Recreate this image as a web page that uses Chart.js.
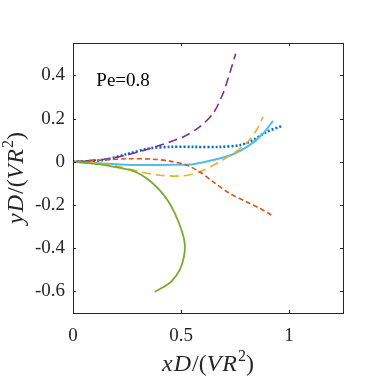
<!DOCTYPE html>
<html><head><meta charset="utf-8">
<script src="https://cdn.jsdelivr.net/npm/chart.js@4/dist/chart.umd.min.js"></script>
<style>html,body{margin:0;padding:0;background:#fff}#w{width:379px;height:379px}</style>
</head><body><div id="w"><canvas id="c"></canvas></div>
<script>
const xTicks = [0, 0.5, 1];
const yTicks = [-0.6, -0.4, -0.2, 0, 0.2, 0.4];
const annotationText = 'Pe=0.8';
const xTitleParts = [['x', 'i'], ['D', 'i'], ['/', 'n'], ['(', 'n'], ['V', 'i'], ['R', 'i'], ['2', 's'], [')', 'n']];
const yTitleParts = [['y', 'i'], ['D', 'i'], ['/', 'n'], ['(', 'n'], ['V', 'i'], ['R', 'i'], ['2', 's'], [')', 'n']];

const purpleX = [0, 0.139, 0.247, 0.37, 0.509, 0.586, 0.648, 0.694, 0.725, 0.753];
const purpleY = [0, 0.011, 0.031, 0.066, 0.115, 0.162, 0.223, 0.315, 0.408, 0.5];
const blueX = [0, 0.139, 0.247, 0.355, 0.448, 0.556, 0.679, 0.772, 0.833, 0.895, 0.965];
const blueY = [0, 0.008, 0.035, 0.062, 0.069, 0.069, 0.069, 0.077, 0.1, 0.138, 0.165];
const orangeX = [0, 0.139, 0.247, 0.37, 0.448, 0.525, 0.586, 0.648, 0.725, 0.802, 0.864, 0.918];
const orangeY = [0, 0.008, 0.014, 0.012, 0.003, -0.015, -0.046, -0.092, -0.146, -0.185, -0.215, -0.246];
const yellowX = [0, 0.123, 0.216, 0.309, 0.401, 0.509, 0.586, 0.664, 0.741, 0.802, 0.849, 0.88];
const yellowY = [0, -0.008, -0.023, -0.046, -0.062, -0.065, -0.046, -0.008, 0.038, 0.085, 0.146, 0.208];
const cyanX = [0, 0.093, 0.216, 0.34, 0.463, 0.556, 0.648, 0.741, 0.818, 0.88, 0.926];
const cyanY = [0, -0.005, -0.012, -0.015, -0.014, -0.011, 0.008, 0.035, 0.077, 0.131, 0.189];
const greenX = [0, 0.124, 0.216, 0.27, 0.315, 0.358, 0.4, 0.44, 0.471, 0.502, 0.517, 0.514, 0.494, 0.456, 0.417, 0.378];
const greenY = [0, -0.012, -0.028, -0.04, -0.06, -0.09, -0.13, -0.182, -0.238, -0.315, -0.377, -0.438, -0.5, -0.554, -0.581, -0.603];

const pts = (xs, ys) => xs.map((x, i) => ({x, y: ys[i]}));
function ds(xs, ys, color, dash, width) {
  return {data: pts(xs, ys), borderColor: color, backgroundColor: color, borderDash: dash,
    borderWidth: width, showLine: true, pointRadius: 0, tension: 0.3, fill: false};
}

const SIZE = 24;
function fontFor(kind) {
  if (kind === 'i') return 'italic ' + SIZE + 'px "Liberation Serif"';
  if (kind === 's') return Math.round(SIZE * 0.68) + 'px "Liberation Serif"';
  return SIZE + 'px "Liberation Serif"';
}
function drawMath(ctx, parts, cx, baseline) {
  let total = 0;
  const widths = parts.map(([t, k]) => { ctx.font = fontFor(k); const w = ctx.measureText(t).width + (k === 'i' ? 1 : 0); total += w; return w; });
  let x = cx - total / 2;
  ctx.textAlign = 'left'; ctx.textBaseline = 'alphabetic';
  parts.forEach(([t, k], i) => {
    ctx.font = fontFor(k);
    ctx.fillText(t, x, k === 's' ? baseline - SIZE * 0.4 : baseline);
    x += widths[i];
  });
}

const frame = {
  id: 'frame',
  afterDraw(chart) {
    const {ctx, chartArea: a, scales} = chart;
    ctx.save();
    ctx.strokeStyle = '#262626'; ctx.lineWidth = 1;
    ctx.strokeRect(Math.round(a.left) + 0.5, Math.round(a.top) + 0.5, Math.round(a.right - a.left), Math.round(a.bottom - a.top));
    const L = 3;
    xTicks.forEach(v => {
      const p = Math.round(scales.x.getPixelForValue(v)) + 0.5;
      ctx.beginPath(); ctx.moveTo(p, a.bottom); ctx.lineTo(p, a.bottom - L);
      ctx.moveTo(p, a.top); ctx.lineTo(p, a.top + L); ctx.stroke();
    });
    yTicks.forEach(v => {
      const p = Math.round(scales.y.getPixelForValue(v)) + 0.5;
      ctx.beginPath(); ctx.moveTo(a.left, p); ctx.lineTo(a.left + L, p);
      ctx.moveTo(a.right, p); ctx.lineTo(a.right - L, p); ctx.stroke();
    });
    ctx.fillStyle = '#000';
    ctx.font = '19px "Liberation Serif"';
    ctx.textBaseline = 'middle';
    ctx.fillText(annotationText, scales.x.getPixelForValue(0.108), scales.y.getPixelForValue(0.375));
    ctx.fillStyle = '#262626';
    drawMath(ctx, xTitleParts, (a.left + a.right) / 2, 371);
    ctx.translate(23, (a.top + a.bottom) / 2);
    ctx.rotate(-Math.PI / 2);
    drawMath(ctx, yTitleParts, 0, 0);
    ctx.restore();
  }
};

new Chart(document.getElementById('c'), {
  type: 'scatter',
  data: {datasets: [
    ds(greenX, greenY, '#77AC30', [], 1.8),
    ds(orangeX, orangeY, '#D95319', [5, 3], 1.6),
    ds(yellowX, yellowY, '#EDB120', [9, 5], 1.6),
    ds(purpleX, purpleY, '#7E2F8E', [9, 5], 1.6),
    ds(cyanX, cyanY, '#4DBEEE', [], 2),
    ds(blueX, blueY, '#0072BD', [2, 2], 2.6)
  ]},
  options: {
    responsive: true, maintainAspectRatio: false, animation: false,
    layout: {padding: {top: 43, right: 36, left: 0, bottom: 0}},
    plugins: {legend: {display: false}, tooltip: {enabled: false}},
    scales: {
      x: {type: 'linear', min: 0, max: 1.25,
        afterBuildTicks: s => { s.ticks = xTicks.map(v => ({value: v})); },
        afterFit: s => { s.height = 66; },
        grid: {display: false, drawTicks: false}, border: {display: false},
        ticks: {color: '#262626', font: {family: 'Liberation Serif', size: 19}, padding: 12, maxRotation: 0,
          callback: v => String(v)},
        title: {display: false}
      },
      y: {type: 'linear', min: -0.7, max: 0.55,
        afterBuildTicks: s => { s.ticks = yTicks.map(v => ({value: v})); },
        afterFit: s => { s.width = 73; },
        grid: {display: false, drawTicks: false}, border: {display: false},
        ticks: {color: '#262626', font: {family: 'Liberation Serif', size: 19}, padding: 8,
          callback: v => (Math.abs(v) < 1e-9 ? '0' : String(Math.round(v * 10) / 10))},
        title: {display: false}
      }
    }
  },
  plugins: [frame]
});
</script></body></html>
